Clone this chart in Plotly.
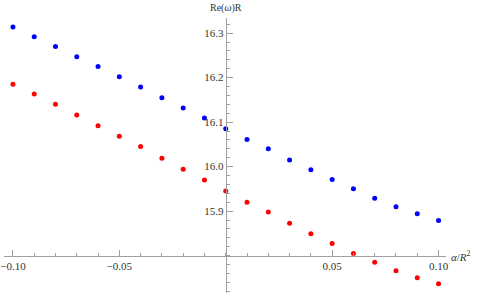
import plotly.graph_objects as go

alpha = [-0.10, -0.09, -0.08, -0.07, -0.06, -0.05, -0.04, -0.03, -0.02, -0.01, 0.00,
         0.01, 0.02, 0.03, 0.04, 0.05, 0.06, 0.07, 0.08, 0.09, 0.10]
blue_vals = [16.314, 16.292, 16.270, 16.247, 16.225, 16.202, 16.179, 16.155, 16.132, 16.109, 16.085,
             16.061, 16.040, 16.015, 15.993, 15.971, 15.950, 15.929, 15.910, 15.894, 15.879]
red_vals = [16.185, 16.163, 16.140, 16.116, 16.092, 16.068, 16.045, 16.019, 15.994, 15.970, 15.945,
            15.920, 15.898, 15.873, 15.849, 15.827, 15.805, 15.785, 15.766, 15.750, 15.737]

x_tickvals = [-0.10, -0.05, 0.05, 0.10]
x_ticktext = ["\u22120.10", "\u22120.05", "0.05", "0.10"]
y_tickvals = [15.9, 16.0, 16.1, 16.2, 16.3]
y_ticktext = ["15.9", "16.0", "16.1", "16.2", "16.3"]

x_range = [-0.1042, 0.1035]
y_range = [15.716, 16.334]
x_cross = 0.0
y_cross = 15.80

fig = go.Figure()
fig.add_trace(go.Scatter(x=alpha, y=blue_vals, mode="markers",
                         marker=dict(color="rgb(0,0,255)", size=5), showlegend=False))
fig.add_trace(go.Scatter(x=alpha, y=red_vals, mode="markers",
                         marker=dict(color="rgb(255,0,0)", size=5), showlegend=False))

axis_color = "#a0a0a0"
serif = "Liberation Serif"
font = dict(family=serif, size=11, color="#333333")

fig.update_layout(
    width=478, height=293,
    margin=dict(l=4, r=32, t=18, b=0, autoexpand=False),
    paper_bgcolor="white", plot_bgcolor="white",
    font=font,
    xaxis=dict(
        range=x_range, anchor="free", automargin=False,
        position=(y_cross - y_range[0]) / (y_range[1] - y_range[0]),
        showgrid=False, zeroline=False, showline=True, linecolor=axis_color, linewidth=1,
        tickvals=x_tickvals, ticktext=x_ticktext, ticks="inside", ticklen=6,
        tickcolor=axis_color, tickfont=font,
        minor=dict(tick0=0, dtick=0.01, ticks="inside", ticklen=3, tickcolor=axis_color, showgrid=False),
    ),
    yaxis=dict(
        range=y_range, anchor="free", automargin=False,
        position=(x_cross - x_range[0]) / (x_range[1] - x_range[0]),
        showgrid=False, zeroline=False, showline=True, linecolor=axis_color, linewidth=1,
        tickvals=y_tickvals, ticktext=y_ticktext, ticks="inside", ticklen=6,
        tickcolor=axis_color, tickfont=font,
        minor=dict(tick0=0, dtick=0.02, ticks="inside", ticklen=3, tickcolor=axis_color, showgrid=False),
    ),
    annotations=[
        dict(text="Re(<i>\u03c9</i>)R", xref="x", x=x_cross, yref="paper", y=1,
             xanchor="center", yanchor="bottom", yshift=2, showarrow=False,
             font=dict(family=serif, size=10, color="#333333")),
        dict(text="<i>\u03b1</i>/<i>R</i><sup>2</sup>", xref="paper", x=1, yref="y", y=y_cross,
             xanchor="left", yanchor="middle", xshift=3, showarrow=False,
             font=dict(family=serif, size=11, color="#333333")),
    ],
)

fig.write_html("out.html", config={"displayModeBar": False},
               post_script="document.body.style.margin='0';document.body.style.padding='0';")
